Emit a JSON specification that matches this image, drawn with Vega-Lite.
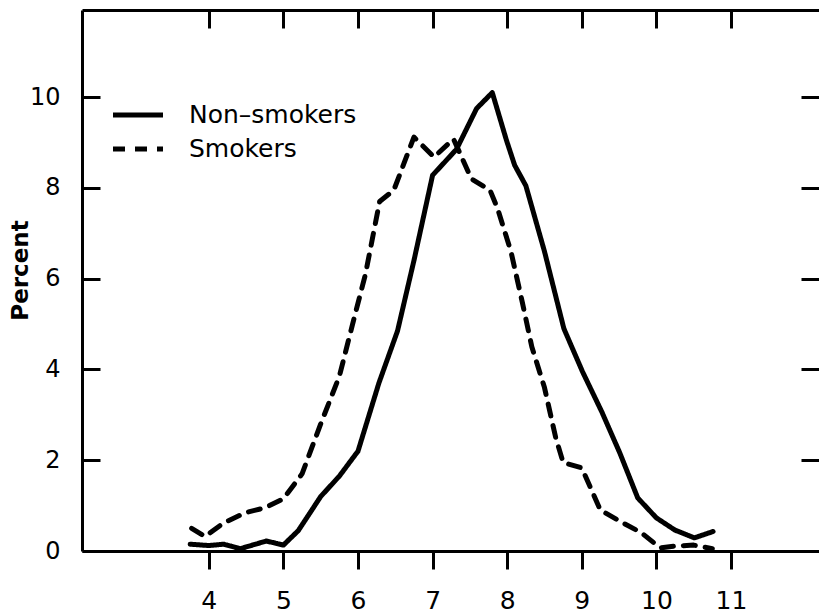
{
  "$schema": "https://vega.github.io/schema/vega-lite/v6.json",
  "width": 737,
  "height": 541,
  "autosize": {"type": "none"},
  "padding": {"left": 82, "top": 10, "right": 0, "bottom": 64},
  "background": "white",
  "config": {
    "view": {"stroke": null},
    "font": "DejaVu Sans",
    "axis": {
      "domainColor": "black", "domainWidth": 3, "tickColor": "black", "tickWidth": 3,
      "labelColor": "black", "grid": false, "labelFont": "DejaVu Sans", "titleColor": "black"
    }
  },
  "data": {
    "values": [
      {"series": "Non–smokers", "x": 3.75, "y": 0.15},
      {"series": "Non–smokers", "x": 4.0, "y": 0.12},
      {"series": "Non–smokers", "x": 4.2, "y": 0.15},
      {"series": "Non–smokers", "x": 4.42, "y": 0.05},
      {"series": "Non–smokers", "x": 4.77, "y": 0.22},
      {"series": "Non–smokers", "x": 5.0, "y": 0.13},
      {"series": "Non–smokers", "x": 5.2, "y": 0.45},
      {"series": "Non–smokers", "x": 5.5, "y": 1.2},
      {"series": "Non–smokers", "x": 5.75, "y": 1.65},
      {"series": "Non–smokers", "x": 6.0, "y": 2.2},
      {"series": "Non–smokers", "x": 6.28, "y": 3.7},
      {"series": "Non–smokers", "x": 6.53, "y": 4.85},
      {"series": "Non–smokers", "x": 6.75, "y": 6.4},
      {"series": "Non–smokers", "x": 7.0, "y": 8.28},
      {"series": "Non–smokers", "x": 7.32, "y": 8.85},
      {"series": "Non–smokers", "x": 7.59, "y": 9.75},
      {"series": "Non–smokers", "x": 7.8, "y": 10.1},
      {"series": "Non–smokers", "x": 7.99, "y": 9.05},
      {"series": "Non–smokers", "x": 8.1, "y": 8.5},
      {"series": "Non–smokers", "x": 8.25, "y": 8.05},
      {"series": "Non–smokers", "x": 8.5, "y": 6.6},
      {"series": "Non–smokers", "x": 8.76, "y": 4.9},
      {"series": "Non–smokers", "x": 9.01, "y": 3.95},
      {"series": "Non–smokers", "x": 9.27, "y": 3.06},
      {"series": "Non–smokers", "x": 9.51, "y": 2.16},
      {"series": "Non–smokers", "x": 9.75, "y": 1.17},
      {"series": "Non–smokers", "x": 10.0, "y": 0.73},
      {"series": "Non–smokers", "x": 10.25, "y": 0.46},
      {"series": "Non–smokers", "x": 10.51, "y": 0.29},
      {"series": "Non–smokers", "x": 10.76, "y": 0.43},
      {"series": "Smokers", "x": 3.77, "y": 0.5},
      {"series": "Smokers", "x": 3.95, "y": 0.32},
      {"series": "Smokers", "x": 4.2, "y": 0.62},
      {"series": "Smokers", "x": 4.5, "y": 0.85},
      {"series": "Smokers", "x": 4.75, "y": 0.95},
      {"series": "Smokers", "x": 5.0, "y": 1.15},
      {"series": "Smokers", "x": 5.25, "y": 1.7},
      {"series": "Smokers", "x": 5.5, "y": 2.8},
      {"series": "Smokers", "x": 5.75, "y": 3.85},
      {"series": "Smokers", "x": 5.92, "y": 4.95},
      {"series": "Smokers", "x": 6.1, "y": 6.1},
      {"series": "Smokers", "x": 6.29, "y": 7.7},
      {"series": "Smokers", "x": 6.48, "y": 7.95},
      {"series": "Smokers", "x": 6.75, "y": 9.12},
      {"series": "Smokers", "x": 7.02, "y": 8.68},
      {"series": "Smokers", "x": 7.28, "y": 9.08},
      {"series": "Smokers", "x": 7.52, "y": 8.2},
      {"series": "Smokers", "x": 7.77, "y": 7.95},
      {"series": "Smokers", "x": 7.87, "y": 7.55},
      {"series": "Smokers", "x": 8.05, "y": 6.6},
      {"series": "Smokers", "x": 8.2, "y": 5.5},
      {"series": "Smokers", "x": 8.33, "y": 4.5},
      {"series": "Smokers", "x": 8.5, "y": 3.6},
      {"series": "Smokers", "x": 8.65, "y": 2.5},
      {"series": "Smokers", "x": 8.75, "y": 1.95},
      {"series": "Smokers", "x": 9.0, "y": 1.83},
      {"series": "Smokers", "x": 9.25, "y": 0.9},
      {"series": "Smokers", "x": 9.55, "y": 0.62},
      {"series": "Smokers", "x": 9.8, "y": 0.4},
      {"series": "Smokers", "x": 10.05, "y": 0.07},
      {"series": "Smokers", "x": 10.27, "y": 0.11},
      {"series": "Smokers", "x": 10.5, "y": 0.13},
      {"series": "Smokers", "x": 10.75, "y": 0.05}
    ]
  },
  "layer": [
    {
      "mark": {"type": "line", "color": "black", "strokeWidth": 5, "strokeCap": "round", "strokeJoin": "round"},
      "encoding": {
        "x": {"field": "x", "type": "quantitative", "scale": {"domain": [2.3, 12.18], "nice": false, "zero": false},
          "axis": {"orient": "bottom", "values": [4,5,6,7,8,9,10,11], "tickSize": 18, "labelFontSize": 25, "labelPadding": 19, "title": null, "labelFlush": false}},
        "y": {"field": "y", "type": "quantitative", "scale": {"domain": [0, 11.92], "nice": false},
          "axis": {"orient": "left", "values": [0,2,4,6,8,10], "tickSize": -18, "labelFontSize": 24, "labelPadding": 40, "labelFlush": false,
            "title": "Percent", "titleFontSize": 23, "titleFontWeight": "bold", "titleAngle": 270, "titleX": -62, "titleY": 260, "titleBaseline": "middle", "titleAlign": "center"}},
        "strokeDash": {"field": "series", "type": "nominal",
          "scale": {"domain": ["Non–smokers", "Smokers"], "range": [[1, 0], [12, 10]]},
          "legend": {"title": null, "orient": "none", "legendX": 41, "legendY": 90, "symbolType": "M-2,0H2", "symbolSize": 625,
            "symbolStrokeWidth": 5, "symbolStrokeColor": "black", "symbolFillColor": "transparent", "labelFontSize": 25, "labelOffset": 36, "labelLimit": 400, "rowPadding": 6, "labelColor": "black"}},
        "detail": {"field": "series"}
      }
    },
    {
      "mark": {"type": "line", "strokeOpacity": 0},
      "encoding": {
        "x": {"field": "x", "type": "quantitative",
          "axis": {"orient": "top", "values": [4,5,6,7,8,9,10,11], "tickSize": -18, "labels": false, "title": null}},
        "y": {"field": "y", "type": "quantitative",
          "axis": {"orient": "right", "values": [2,4,6,8,10], "tickSize": -18, "labels": false, "domain": false, "title": null}},
        "detail": {"field": "series"}
      }
    }
  ],
  "resolve": {"axis": {"x": "independent", "y": "independent"}}
}
